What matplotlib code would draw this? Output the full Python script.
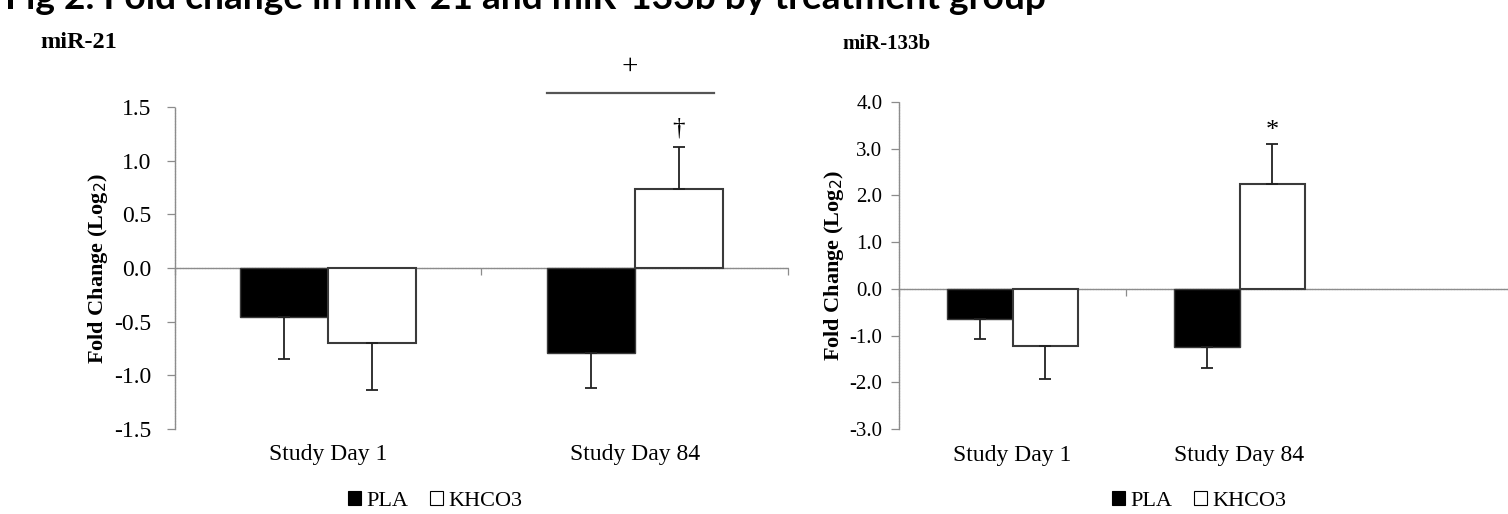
import matplotlib
matplotlib.use('Agg')
import matplotlib.pyplot as plt
from matplotlib.patches import Patch
import numpy as np

plt.rcParams['font.family'] = ['Liberation Serif', 'DejaVu Serif']
plt.rcParams['axes.unicode_minus'] = False

# data
days = ['Study Day 1', 'Study Day 84']
groups = ['PLA', 'KHCO3']

mir21_pla = [-0.46, -0.79]
mir21_pla_err = [0.39, 0.33]
mir21_khco3 = [-0.70, 0.74]
mir21_khco3_err = [0.44, 0.39]

mir133b_pla = [-0.65, -1.25]
mir133b_pla_err = [0.42, 0.45]
mir133b_khco3 = [-1.22, 2.24]
mir133b_khco3_err = [0.70, 0.87]

grey = '#8c8c8c'
edge = '#3a3a3a'
width = 0.287
fs = 17


def one_sided(vals, errs):
    # error bar only on the side away from zero
    lo = [e if v < 0 else 0 for v, e in zip(vals, errs)]
    hi = [e if v >= 0 else 0 for v, e in zip(vals, errs)]
    return [lo, hi]


def draw(ax, pla, pla_err, kh, kh_err, ylim, yticks, xmax, xticks,
         tick_fs=17, tick_pad=11):
    ind = np.arange(len(days)) + 0.5
    ax.bar(ind - width / 2, pla, width, color='black', edgecolor=edge,
           linewidth=1.0, zorder=3)
    ax.bar(ind + width / 2, kh, width, color='white', edgecolor=edge,
           linewidth=1.5, zorder=3)
    for x, v, e in [(ind - width / 2, pla, pla_err), (ind + width / 2, kh, kh_err)]:
        ax.errorbar(x, v, yerr=one_sided(v, e), fmt='none', ecolor='#222222',
                    elinewidth=1.3, capsize=4, capthick=1.3, zorder=4)
    ax.set_xlim(0, xmax)
    ax.set_ylim(*ylim)
    ax.set_yticks(yticks)
    ax.set_yticklabels(['%.1f' % t for t in yticks], fontsize=tick_fs)
    ax.set_xticks(xticks)
    ax.set_xticklabels([])
    for s in ['top', 'right']:
        ax.spines[s].set_visible(False)
    ax.spines['bottom'].set_position(('data', 0))
    for s in ['left', 'bottom']:
        ax.spines[s].set_color(grey)
        ax.spines[s].set_linestyle((0, (1.2, 0.8)))
        ax.spines[s].set_linewidth(1.0)
    ax.tick_params(axis='y', direction='out', length=6, width=0.9,
                   color=grey, pad=tick_pad)
    ax.tick_params(axis='x', direction='out', length=5, width=0.9, color=grey)
    for x, d in zip(ind, days):
        ax.text(x, -0.08, d, transform=ax.get_xaxis_transform(),
                ha='center', va='center', fontsize=fs)
    ax.set_ylabel('Fold Change (Log$_2$)', fontsize=16, fontweight='bold')


fig = plt.figure(figsize=(15.08, 5.14), dpi=100)

ax1 = fig.add_axes([0.116, 0.1654, 0.4065, 0.6265])
draw(ax1, mir21_pla, mir21_pla_err, mir21_khco3, mir21_khco3_err,
     (-1.5, 1.5), np.arange(-1.5, 1.51, 0.5), 2, [0, 1, 2])
ax1.yaxis.set_label_coords(-0.106, 0.5)
ax1.plot([1.215, 1.76], [1.63, 1.63], color='#555555', lw=1.6,
         clip_on=False, zorder=5)
ax1.text(1.485, 1.87, '+', ha='center', va='center', fontsize=21)
ax1.text(1.5 + width / 2, 1.30, '\u2020', ha='center', va='center', fontsize=18)

ax2 = fig.add_axes([0.5962, 0.1654, 0.4038, 0.6362])
draw(ax2, mir133b_pla, mir133b_pla_err, mir133b_khco3, mir133b_khco3_err,
     (-3.0, 4.0), np.arange(-3.0, 4.01, 1.0), 609 / 227, [0, 1],
     tick_fs=15, tick_pad=6)
ax2.yaxis.set_label_coords(-0.087, 0.5)
ax2.text(1.5 + width / 2, 3.38, '*', ha='center', va='center', fontsize=19)

fig.text(0.003, 0.9825, 'Fig 2. Fold change in miR-21 and miR-133b by treatment group',
         fontsize=26.7, fontweight='bold', family=['Lato', 'DejaVu Sans'],
         ha='left', va='baseline')
fig.text(40 / 1508, 1 - 48 / 514, 'miR-21', fontsize=17.5, fontweight='bold',
         ha='left', va='baseline')
fig.text(842 / 1508, 1 - 49 / 514, 'miR-133b', fontsize=15, fontweight='bold',
         ha='left', va='baseline')

handles = [Patch(facecolor='black', edgecolor='black', linewidth=0.8),
           Patch(facecolor='white', edgecolor='black', linewidth=0.8)]
for cx in [435 / 1508, 1199 / 1508]:
    fig.legend(handles, groups, loc='center', bbox_to_anchor=(cx, 1 - 501 / 514),
               ncol=2, frameon=False, fontsize=16, handlelength=0.6,
               handleheight=0.6, handletextpad=0.2, columnspacing=1.0,
               borderaxespad=0, borderpad=0)

fig.savefig('out.png', dpi=100)
